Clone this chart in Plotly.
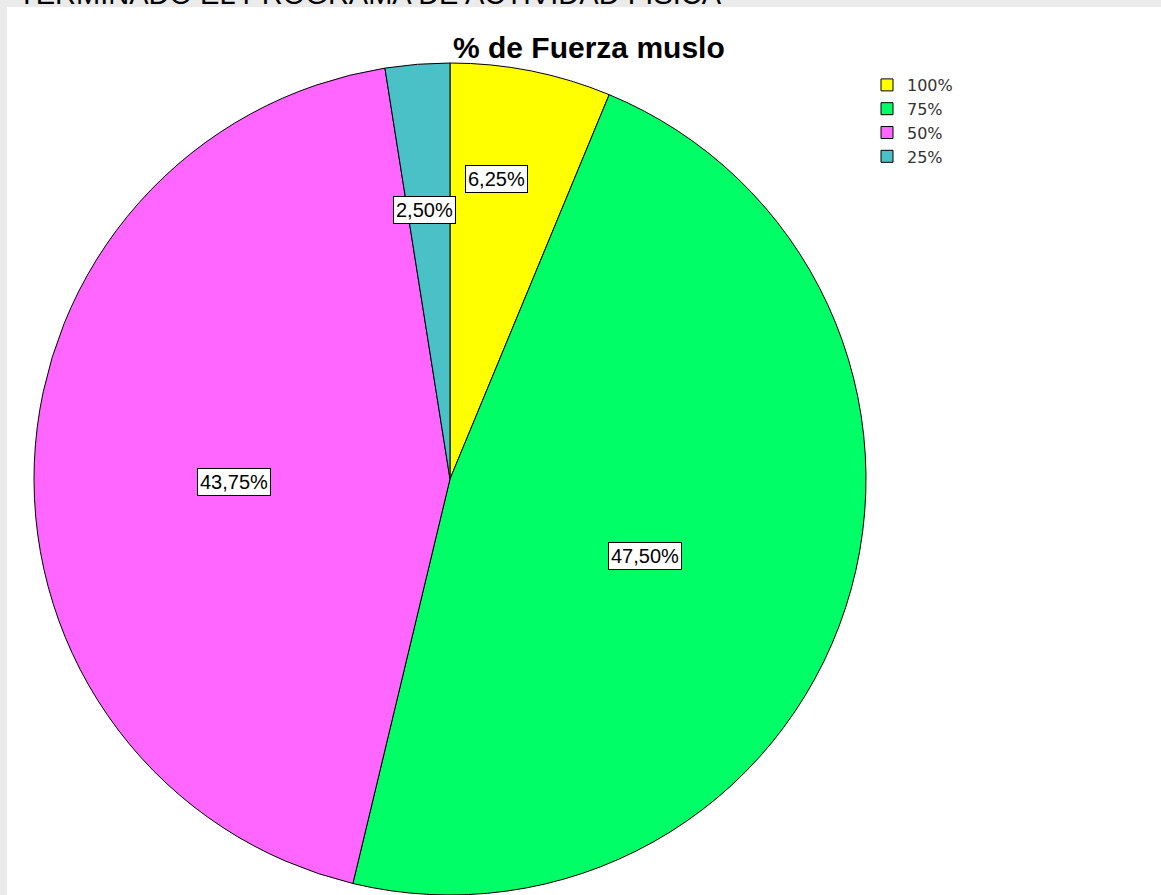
import math
import plotly.graph_objects as go

# Data
categories = ["100%", "75%", "50%", "25%"]
values = [6.25, 47.50, 43.75, 2.50]
colors = ["#FFFF00", "#00FF66", "#FF66FF", "#4AC1C6"]
title_text = "% de Fuerza muslo"
header_text = "TERMINADO EL PROGRAMA DE ACTIVIDAD FISICA"

W, H = 1161, 895
cx, cy_top, R = 450, 479, 416  # pie centre (px from left / top) and radius
FONT = "Liberation Sans, Arial"

fig = go.Figure()
fig.add_trace(go.Pie(
    labels=categories,
    values=values,
    sort=False,
    direction="clockwise",
    rotation=0,
    marker=dict(colors=colors, line=dict(color="#000000", width=1)),
    textinfo="none",
    hoverinfo="label+percent",
    domain=dict(x=[(cx - R) / W, (cx + R) / W],
                y=[(H - cy_top - R) / H, (H - cy_top + R) / H]),
))

# Data labels: placed at the slice mid-angle, computed from the values
label_r = [0.73, 0.505, 0.52, 0.65]     # radial fraction of R
label_nudge = [-2.5, 3.5, -3.0, -1.0]   # degrees
total = sum(values)
cum = 0.0
annotations = []
for v, rf, nd in zip(values, label_r, label_nudge):
    mid = (cum + v / 2) / total * 360.0 + nd
    cum += v
    th = math.radians(mid)
    px = cx + rf * R * math.sin(th)
    py = (H - cy_top) + rf * R * math.cos(th)
    annotations.append(dict(
        x=px / W, y=py / H, xref="paper", yref="paper",
        xanchor="center", yanchor="middle",
        text=f"{v:.2f}".replace(".", ",") + "%",
        showarrow=False, bgcolor="#FFFFFF", bordercolor="#000000",
        borderwidth=1, borderpad=2,
        font=dict(family=FONT, size=20, color="#000000"),
    ))

annotations.append(dict(
    x=589 / W, y=1 - 48 / H, xref="paper", yref="paper",
    text=f"<b>{title_text}</b>", showarrow=False,
    font=dict(family=FONT, size=30, color="#000000"),
    xanchor="center", yanchor="middle",
))
annotations.append(dict(
    x=16 / W, y=1 - 12 / H, xref="paper", yref="paper",
    text=header_text, showarrow=False, xanchor="left", yanchor="bottom",
    font=dict(family=FONT, size=29, color="#000000"),
))

fig.update_layout(
    width=W, height=H,
    margin=dict(l=0, r=0, t=0, b=0),
    paper_bgcolor="#EBEBEB",
    plot_bgcolor="#FFFFFF",
    annotations=annotations,
    shapes=[dict(type="rect", xref="paper", yref="paper",
                 x0=7 / W, x1=1, y0=0, y1=1 - 7 / H,
                 fillcolor="#FFFFFF", line=dict(width=0), layer="below")],
    showlegend=True,
    legend=dict(x=867 / W, y=1 - 68 / H, xanchor="left", yanchor="top",
                font=dict(family="DejaVu Sans", size=16, color="#333333"),
                bgcolor="rgba(0,0,0,0)", itemwidth=30, tracegroupgap=0),
)

fig.write_html("out.html", config={"displayModeBar": False},
               post_script="document.body.style.margin='0';")
